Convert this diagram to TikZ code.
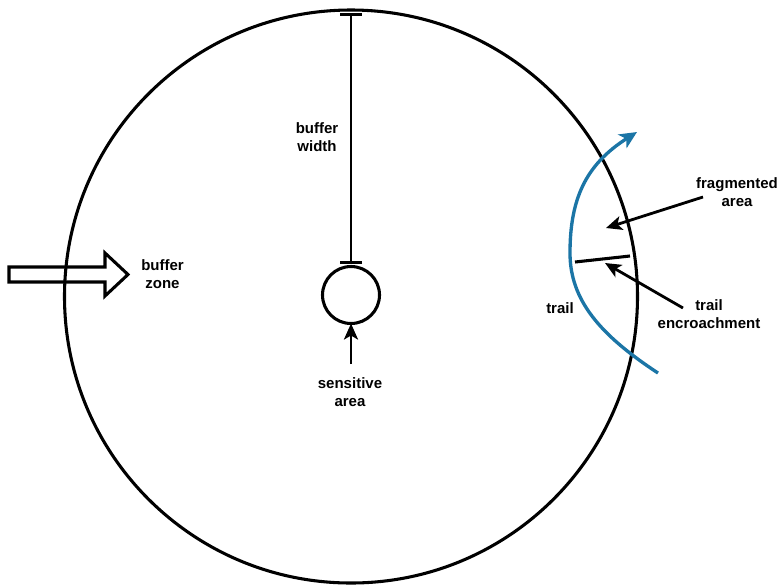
\documentclass[tikz,border=0pt]{standalone}
\usepackage{fontspec}
\setmainfont{Liberation Sans}
\usetikzlibrary{arrows.meta}
\definecolor{trailblue}{RGB}{27,117,166}
\tikzset{
  lbl/.style={font=\fontsize{11.25}{13.5}\selectfont\bfseries, align=center, inner sep=1pt},
  ring/.style={draw, circle, line width=2.3pt, inner sep=0pt, outer sep=0pt},
  ptr/.style={line width=2.1pt, -{Stealth[length=12pt,width=10.5pt,inset=3pt]}},
  dim/.style={line width=2.2pt, {Bar[width=16.5pt,line width=2.4pt]}-{Bar[width=16.5pt,line width=2.4pt]}},
}
\begin{document}
\begin{tikzpicture}[x=0.75pt,y=-0.75pt]
\useasboundingbox (0,0) rectangle (778,587);
% big buffer circle
\node[ring, minimum size=429.75pt] (zone) at (351,296.5) {};
% sensitive area circle
\node[ring, minimum size=42.75pt] (sens) at (351,295) {};
% buffer width dimension
\coordinate (bwtop) at (351,13);
\coordinate (bwbot) at (351,264);
\draw[dim] (bwtop) -- (bwbot);
\node[lbl] (bwlbl) at (317,137) {buffer\\width};
% sensitive area label and arrow
\node[lbl] (senslbl) at (350,392) {sensitive\\area};
\coordinate (sensfrom) at (351,364);
\draw[ptr] (sensfrom) -- (sens.south);
% buffer zone block arrow
\draw[line width=2.3pt, line join=miter] (9,267) -- (105,267) -- (105,253) -- (128,274.5) -- (105,296) -- (105,282) -- (9,282) -- cycle;
\node[lbl] (bzlbl) at (162.5,274.5) {buffer\\zone};
% trail
\coordinate (trs) at (658,373);
\coordinate (trm) at (570,253);
\coordinate (tre) at (637,132);
\draw[trailblue, line width=2.5pt, -{Stealth[length=13pt,width=12pt,inset=3.5pt]}]
  (trs) .. controls (600,335) and (570,300) .. (trm)
        .. controls (570,200) and (585,165) .. (tre);
\node[lbl] (traillbl) at (560,308) {trail};
% encroachment line
\coordinate (enA) at (575,262);
\coordinate (enB) at (630,256);
\draw[line width=2.3pt] (enA) -- (enB);
% fragmented area
\node[lbl] (fraglbl) at (737,192) {fragmented\\area};
\coordinate (fragfrom) at (703,197);
\coordinate (fragto) at (606,228);
\draw[ptr] (fragfrom) -- (fragto);
% trail encroachment
\node[lbl] (enclbl) at (709,314) {trail\\encroachment};
\coordinate (encfrom) at (683,308);
\coordinate (encto) at (605,263);
\draw[ptr] (encfrom) -- (encto);
\end{tikzpicture}
\end{document}
